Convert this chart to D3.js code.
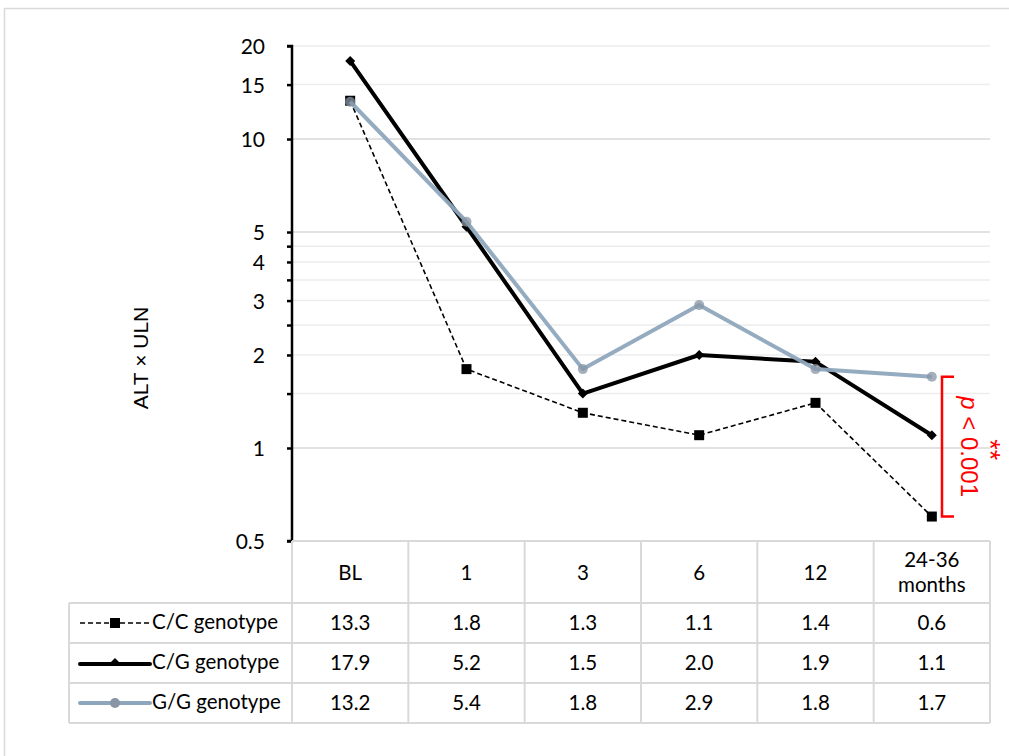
<!DOCTYPE html>
<html>
<head>
<meta charset="utf-8">
<script src="https://cdn.jsdelivr.net/npm/d3@7"></script>
<style>
  body { margin: 0; background: #fff; }
  text { font-family: Lato, "Liberation Sans", sans-serif; }
</style>
</head>
<body>
<div id="container"></div>
<script>
/* CONSTANTS AND GLOBALS */
const width = 1009,
  height = 756,
  margin = { top: 46, bottom: 215, left: 292, right: 19 };

// categories along x (also the table header)
const categories = ["BL", "1", "3", "6", "12", "24-36 months"];
const seriesNames = ["C/C genotype", "C/G genotype", "G/G genotype"];
// series values (ALT x ULN)
const ccValues = [13.3, 1.8, 1.3, 1.1, 1.4, 0.6];
const cgValues = [17.9, 5.2, 1.5, 2.0, 1.9, 1.1];
const ggValues = [13.2, 5.4, 1.8, 2.9, 1.8, 1.7];
// y tick values / labels
const yTicks = [0.5, 1, 1.5, 2, 2.5, 3, 3.5, 4, 4.5, 5, 10, 15, 20];
const yLabelled = [0.5, 1, 2, 3, 4, 5, 10, 15, 20];
const yMajor = [0.5, 1, 5, 10];

const series = [
  { name: seriesNames[0], values: ccValues },
  { name: seriesNames[1], values: cgValues },
  { name: seriesNames[2], values: ggValues }
];

const plotBottom = height - margin.bottom; // 541
const plotRight = width - margin.right;    // 990
const fs = "20.5px";

const svg = d3.select("#container").append("svg")
  .attr("width", width)
  .attr("height", height);

// outer chart border
svg.append("rect")
  .attr("x", 4.5).attr("y", 8.5)
  .attr("width", width).attr("height", height)
  .attr("fill", "none").attr("stroke", "#d9d9d9").attr("stroke-width", 1.5);

/* SCALES */
const xScale = d3.scaleBand()
  .domain(categories)
  .range([margin.left, plotRight]);

const yScale = d3.scaleLog()
  .domain([0.5, 20])
  .range([plotBottom, margin.top]);

/* GRIDLINES */
svg.append("g").selectAll("line")
  .data(yTicks)
  .join("line")
  .attr("x1", margin.left).attr("x2", plotRight)
  .attr("y1", d => yScale(d)).attr("y2", d => yScale(d))
  .attr("stroke", d => yMajor.includes(d) ? "#d9d9d9" : "#ededed")
  .attr("stroke-width", 1.5);

/* Y AXIS */
const yAxis = d3.axisLeft(yScale)
  .tickValues(yTicks)
  .tickSize(5)
  .tickFormat(d => yLabelled.includes(d) ? d3.format("")(d) : "");

const yAxisGroup = svg.append("g")
  .attr("transform", `translate(${margin.left}, 0)`)
  .call(yAxis);
yAxisGroup.attr("font-family", null).attr("font-size", null);
yAxisGroup.select(".domain").attr("stroke", "#000").attr("stroke-width", 2.5)
  .attr("d", `M-5,${plotBottom}H0V${margin.top}H-5`);
yAxisGroup.selectAll(".tick line").attr("stroke", "#000").attr("stroke-width", 2.5);
yAxisGroup.selectAll(".tick text")
  .attr("x", -27)
  .attr("dy", "0.36em")
  .style("font-size", "21px")
  .attr("fill", "#000");

svg.append("text")
  .attr("transform", "translate(148, 358) rotate(-90)")
  .attr("text-anchor", "middle")
  .style("font-family", "'Liberation Sans', Arial, sans-serif")
  .style("font-size", "21px")
  .text("ALT × ULN");

/* DATA TABLE */
const tableLeft = 69;
const rowEdges = [541, 603, 643, 683, 723];
const tableColor = "#d9d9d9";
const tbl = svg.append("g").attr("stroke", tableColor).attr("stroke-width", 2);

// horizontal rules
tbl.append("line").attr("x1", margin.left).attr("x2", plotRight).attr("y1", rowEdges[0]).attr("y2", rowEdges[0]);
rowEdges.slice(1).forEach(y => {
  tbl.append("line").attr("x1", tableLeft).attr("x2", plotRight).attr("y1", y).attr("y2", y);
});
// vertical rules
tbl.append("line").attr("x1", tableLeft).attr("x2", tableLeft).attr("y1", rowEdges[1]).attr("y2", rowEdges[4]);
[margin.left, ...categories.map(c => xScale(c) + xScale.bandwidth())].forEach(x => {
  tbl.append("line").attr("x1", x).attr("x2", x).attr("y1", rowEdges[0]).attr("y2", rowEdges[4]);
});

// header labels
categories.forEach(c => {
  const cx = xScale(c) + xScale.bandwidth() / 2;
  const parts = c === "24-36 months" ? ["24-36", "months"] : [c];
  const t = svg.append("text")
    .attr("x", cx)
    .attr("text-anchor", "middle")
    .style("font-size", fs);
  if (parts.length === 1) {
    t.attr("y", 580).text(parts[0]);
  } else {
    t.append("tspan").attr("x", cx).attr("y", 567).text(parts[0]);
    t.append("tspan").attr("x", cx).attr("y", 592).text(parts[1]);
  }
});

// value cells
series.forEach((s, i) => {
  const yMid = (rowEdges[i + 1] + rowEdges[i + 2]) / 2 + 7;
  s.values.forEach((v, j) => {
    svg.append("text")
      .attr("x", xScale(categories[j]) + xScale.bandwidth() / 2)
      .attr("y", yMid)
      .attr("text-anchor", "middle")
      .style("font-size", fs)
      .text(d3.format(".1f")(v));
  });
  svg.append("text")
    .attr("x", 152)
    .attr("y", yMid - 1)
    .style("font-size", fs)
    .text(s.name);
});

/* LINES */
const lineGen = d3.line()
  .x((d, i) => xScale(categories[i]) + xScale.bandwidth() / 2)
  .y(d => yScale(d));
const xPos = i => xScale(categories[i]) + xScale.bandwidth() / 2;

// C/C: dashed thin line with squares
svg.append("path")
  .datum(ccValues)
  .attr("d", lineGen)
  .attr("fill", "none").attr("stroke", "#000").attr("stroke-width", 1.6)
  .attr("stroke-dasharray", "5,3");
svg.append("g").selectAll("rect")
  .data(ccValues)
  .join("rect")
  .attr("x", (d, i) => xPos(i) - 5).attr("y", d => yScale(d) - 5)
  .attr("width", 10).attr("height", 10)
  .attr("fill", "#000");

// C/G: thick black line with small diamonds
svg.append("path")
  .datum(cgValues)
  .attr("d", lineGen)
  .attr("fill", "none").attr("stroke", "#000").attr("stroke-width", 4)
  .attr("stroke-linejoin", "round");
svg.append("g").selectAll("path")
  .data(cgValues)
  .join("path")
  .attr("d", (d, i) => { const x = xPos(i), y = yScale(d); return `M${x},${y - 5}L${x + 5},${y}L${x},${y + 5}L${x - 5},${y}Z`; })
  .attr("fill", "#000");

// G/G: grey-blue line with circles
svg.append("path")
  .datum(ggValues)
  .attr("d", lineGen)
  .attr("fill", "none").attr("stroke", "#8ea6bd").attr("stroke-width", 4)
  .attr("stroke-linejoin", "round")
  .attr("opacity", 0.95);
svg.append("g").selectAll("circle")
  .data(ggValues)
  .join("circle")
  .attr("cx", (d, i) => xPos(i)).attr("cy", d => yScale(d))
  .attr("r", 5)
  .attr("fill", "#8795a5").attr("opacity", 0.75);

/* LEGEND KEYS IN TABLE */
const keyY = i => (rowEdges[i + 1] + rowEdges[i + 2]) / 2;
const k0 = keyY(0), k1 = keyY(1), k2 = keyY(2);
svg.append("line").attr("x1", 80).attr("x2", 150).attr("y1", k0).attr("y2", k0)
  .attr("stroke", "#000").attr("stroke-width", 1.6).attr("stroke-dasharray", "5,3");
svg.append("rect").attr("x", 110).attr("y", k0 - 5).attr("width", 10).attr("height", 10).attr("fill", "#000");
svg.append("line").attr("x1", 80).attr("x2", 150).attr("y1", k1 + 1).attr("y2", k1 + 1)
  .attr("stroke", "#000").attr("stroke-width", 4).attr("stroke-linecap", "round");
svg.append("path").attr("d", `M115,${k1 - 5}L120,${k1}L110,${k1}Z`).attr("fill", "#000");
svg.append("line").attr("x1", 80).attr("x2", 150).attr("y1", k2).attr("y2", k2)
  .attr("stroke", "#8ea6bd").attr("stroke-width", 4).attr("stroke-linecap", "round");
svg.append("circle").attr("cx", 115).attr("cy", k2).attr("r", 5).attr("fill", "#8795a5");

/* SIGNIFICANCE BRACKET */
const lastI = categories.length - 1;
const bTop = yScale(ggValues[lastI]);
const bBot = yScale(ccValues[lastI]);
const bx = 942;
svg.append("path")
  .attr("d", `M${bx + 12},${bTop}H${bx}V${bBot}H${bx + 12}`)
  .attr("fill", "none").attr("stroke", "#ff0000").attr("stroke-width", 2.5);
const bMid = (bTop + bBot) / 2;
const pText = svg.append("text")
  .attr("transform", `translate(961, ${bMid}) rotate(90)`)
  .attr("text-anchor", "middle")
  .attr("fill", "#ff0000")
  .style("font-family", "'Liberation Sans', Arial, sans-serif")
  .style("font-size", "24px");
pText.append("tspan").style("font-style", "italic").text("p");
pText.append("tspan").text(" < 0.001");
svg.append("text")
  .attr("transform", `translate(981, ${bMid + 3}) rotate(90)`)
  .attr("text-anchor", "middle")
  .attr("fill", "#ff0000")
  .style("font-family", "'Liberation Sans', Arial, sans-serif")
  .style("font-size", "27px")
  .text("**");
</script>
</body>
</html>
